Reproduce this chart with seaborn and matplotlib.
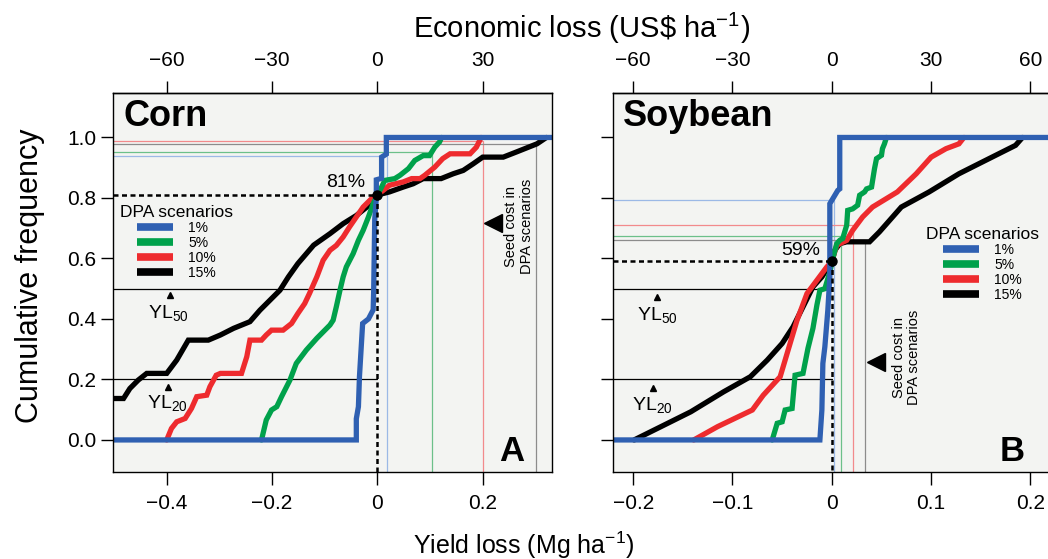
import numpy as np
import pandas as pd
import matplotlib
matplotlib.use("Agg")
import matplotlib.pyplot as plt
import seaborn as sns
from matplotlib.lines import Line2D

sns.set_theme(style="ticks")
plt.rcParams["font.family"] = ["Liberation Sans", "DejaVu Sans"]
plt.rcParams["mathtext.fontset"] = "custom"
plt.rcParams["mathtext.rm"] = "Liberation Sans"
plt.rcParams["mathtext.it"] = "Liberation Sans:italic"
plt.rcParams["mathtext.bf"] = "Liberation Sans:bold"
plt.rcParams["axes.unicode_minus"] = True
for key in ["text.color", "axes.labelcolor", "xtick.color", "ytick.color",
            "xtick.labelcolor", "ytick.labelcolor", "legend.labelcolor"]:
    plt.rcParams[key] = "black"

# ---------------------------------------------------------------- data
scenarios = ["1%", "5%", "10%", "15%"]

# Corn: cumulative frequency of yield loss (Mg/ha) per DPA scenario
corn_1_x = [-0.502, -0.040, -0.040, -0.036, -0.034, -0.028, -0.017, -0.008, -0.007, -0.005,
            -0.002, -0.002, 0.008, 0.008, 0.017, 0.017, 0.331]
corn_1_y = [0.0, 0.0, 0.07, 0.11, 0.21, 0.385, 0.40, 0.43, 0.495, 0.73,
            0.80, 0.86, 0.865, 0.935, 0.945, 1.0, 1.0]
corn_5_x = [-0.220, -0.211, -0.201, -0.191, -0.182, -0.166, -0.154, -0.135, -0.115, -0.090,
            -0.084, -0.078, -0.071, -0.065, -0.059, -0.046, -0.036, -0.027, -0.017, -0.008,
            0.0, 0.008, 0.014, 0.033, 0.043, 0.059, 0.071, 0.087, 0.099, 0.109, 0.118, 0.122]
corn_5_y = [0.0, 0.066, 0.099, 0.11, 0.143, 0.198, 0.253, 0.297, 0.336, 0.380,
            0.396, 0.44, 0.495, 0.539, 0.572, 0.616, 0.66, 0.693, 0.737, 0.781,
            0.81, 0.836, 0.858, 0.864, 0.875, 0.897, 0.924, 0.94, 0.94, 0.968, 0.985, 1.0]
corn_10_x = [-0.400, -0.391, -0.381, -0.365, -0.353, -0.343, -0.324, -0.318, -0.306, -0.298,
             -0.258, -0.248, -0.242, -0.220, -0.211, -0.201, -0.179, -0.163, -0.151, -0.138,
             -0.129, -0.115, -0.103, -0.090, -0.078, -0.065, -0.053, -0.040, -0.027, -0.008,
             0.0, 0.011, 0.023, 0.049, 0.065, 0.081, 0.090, 0.109, 0.124, 0.138,
             0.176, 0.188, 0.197]
corn_10_y = [0.0, 0.038, 0.06, 0.071, 0.104, 0.143, 0.148, 0.176, 0.214, 0.22,
             0.22, 0.275, 0.33, 0.33, 0.347, 0.363, 0.363, 0.385, 0.418, 0.451,
             0.484, 0.539, 0.594, 0.627, 0.643, 0.671, 0.704, 0.737, 0.770, 0.803,
             0.81, 0.825, 0.842, 0.853, 0.864, 0.864, 0.875, 0.902, 0.930, 0.946,
             0.946, 0.968, 1.0]
corn_15_x = [-0.502, -0.482, -0.470, -0.454, -0.438, -0.400, -0.381, -0.359, -0.321, -0.298,
             -0.273, -0.242, -0.223, -0.204, -0.185, -0.169, -0.151, -0.121, -0.090, -0.065,
             -0.040, -0.020, 0.0, 0.023, 0.049, 0.068, 0.087, 0.121, 0.144, 0.163,
             0.182, 0.200, 0.239, 0.264, 0.303, 0.321]
corn_15_y = [0.137, 0.137, 0.170, 0.198, 0.220, 0.220, 0.264, 0.330, 0.330, 0.347,
             0.369, 0.391, 0.429, 0.462, 0.495, 0.539, 0.583, 0.644, 0.682, 0.715,
             0.742, 0.770, 0.81, 0.820, 0.836, 0.847, 0.864, 0.864, 0.880, 0.891,
             0.913, 0.935, 0.935, 0.952, 0.979, 1.0]

# Soybean
soy_1_x = [-0.220, -0.012, -0.010, -0.009, -0.007, -0.004, -0.002, -0.002, 0.006, 0.008, 0.008, 0.222]
soy_1_y = [0.0, 0.0, 0.099, 0.253, 0.308, 0.429, 0.539, 0.781, 0.825, 0.830, 1.0, 1.0]
soy_5_x = [-0.060, -0.055, -0.050, -0.047, -0.040, -0.037, -0.029, -0.024, -0.019, -0.015,
           -0.012, -0.007, -0.002, 0.001, 0.005, 0.008, 0.011, 0.015, 0.016, 0.021,
           0.026, 0.028, 0.033, 0.035, 0.040, 0.043, 0.045, 0.050, 0.051, 0.053, 0.055]
soy_5_y = [0.0, 0.055, 0.06, 0.099, 0.104, 0.214, 0.22, 0.303, 0.369, 0.446,
           0.495, 0.5, 0.555, 0.6, 0.649, 0.66, 0.666, 0.71, 0.759, 0.764,
           0.776, 0.809, 0.820, 0.830, 0.836, 0.897, 0.930, 0.941, 0.963, 0.979, 1.0]
soy_10_x = [-0.139, -0.115, -0.080, -0.069, -0.052, -0.045, -0.035, -0.025, -0.015, -0.005,
            0.0, 0.005, 0.015, 0.021, 0.031, 0.041, 0.066, 0.085, 0.100, 0.115, 0.128, 0.133]
soy_10_y = [0.0, 0.044, 0.099, 0.148, 0.209, 0.286, 0.396, 0.484, 0.528, 0.572,
            0.59, 0.644, 0.66, 0.693, 0.737, 0.770, 0.820, 0.880, 0.935, 0.963, 0.979, 1.0]
soy_15_x = [-0.199, -0.172, -0.142, -0.109, -0.082, -0.065, -0.050, -0.039, -0.029, -0.019,
            -0.010, 0.0, 0.003, 0.008, 0.015, 0.038, 0.048, 0.070, 0.098, 0.128,
            0.151, 0.168, 0.185, 0.192]
soy_15_y = [0.0, 0.044, 0.093, 0.159, 0.209, 0.264, 0.319, 0.374, 0.440, 0.506,
            0.539, 0.59, 0.627, 0.649, 0.655, 0.655, 0.688, 0.770, 0.820, 0.880,
            0.918, 0.946, 0.974, 1.0]

# Seed cost break-even yield loss and matching cumulative frequency
corn_cost_x = [0.019, 0.103, 0.201, 0.302]
corn_cost_y = [0.938, 0.951, 0.988, 0.977]
soy_cost_x = [0.002, 0.0097, 0.021, 0.033]
soy_cost_y = [0.792, 0.673, 0.710, 0.662]

# Frequency of no yield loss, YL20 / YL50 levels
corn_zero_freq = 0.81
soy_zero_freq = 0.59
yl_levels = [0.5, 0.2]

# Grain price (US$ per Mg) linking yield loss to economic loss
corn_price = 150
soy_price = 300

corn_xticks = [-0.4, -0.2, 0.0, 0.2]
corn_xticklabels = ["\u22120.4", "\u22120.2", "0", "0.2"]
soy_xticks = [-0.2, -0.1, 0.0, 0.1, 0.2]
soy_xticklabels = ["\u22120.2", "\u22120.1", "0", "0.1", "0.2"]
corn_topticks = [-60, -30, 0, 30]
soy_topticks = [-60, -30, 0, 30, 60]
yticks = [0.0, 0.2, 0.4, 0.6, 0.8, 1.0]
yticklabels = ["0.0", "0.2", "0.4", "0.6", "0.8", "1.0"]

# ---------------------------------------------------------------- style
colors = {"1%": "#2f60b2", "5%": "#00a14b", "10%": "#ee2b2e", "15%": "#000000"}
ref_colors = {"1%": "#9bb9e6", "5%": "#6cc08a", "10%": "#f28a8c", "15%": "#8c8c8c"}
panel_bg = "#f3f4f2"

fig = plt.figure(figsize=(10.48, 5.59), dpi=100)
fig.patch.set_facecolor("white")

ax_c = fig.add_axes([113 / 1048, 1 - 471.7 / 559, 438.7 / 1048, 379 / 559])
ax_s = fig.add_axes([613.3 / 1048, 1 - 471.7 / 559, 440 / 1048, 379 / 559])

YLIM = (-0.105, 1.148)


def draw_panel(ax, xlim, curves, cost_x, cost_y, zero_freq, price,
               xticks, xticklabels, topticks, show_ylabels):
    ax.set_facecolor(panel_bg)
    ax.set_xlim(*xlim)
    ax.set_ylim(*YLIM)

    # seed-cost reference lines
    for sc, cx, cy in zip(scenarios, cost_x, cost_y):
        ax.plot([xlim[0], cx, cx], [cy, cy, YLIM[0]], color=ref_colors[sc],
                lw=0.9, zorder=1, solid_joinstyle="miter")

    # YL50 / YL20 guide lines
    for lvl in yl_levels:
        ax.plot([xlim[0], 0.0], [lvl, lvl], color="black", lw=0.9, zorder=1.5)

    # cumulative distributions, 15% drawn first so 1% sits on top
    for k, sc in enumerate(reversed(scenarios)):
        xs, ys = curves[sc]
        df = pd.DataFrame({"loss": xs, "freq": ys})
        sns.lineplot(data=df, x="loss", y="freq", sort=False, estimator=None,
                     color=colors[sc], lw=3.8, ax=ax, legend=False,
                     zorder=2 + 0.1 * k, solid_joinstyle="miter")

    # zero-loss frequency marker
    ax.plot([xlim[0], 0.0], [zero_freq, zero_freq], color="black", lw=1.8,
            ls=(0, (2.0, 1.4)), zorder=3)
    ax.plot([0.0, 0.0], [zero_freq, YLIM[0]], color="black", lw=1.8,
            ls=(0, (2.0, 1.4)), zorder=3)
    ax.plot([0.0], [zero_freq], "o", color="black", ms=6.5, zorder=4)

    ax.set_xticks(xticks)
    ax.set_xticklabels(xticklabels)
    ax.set_yticks(yticks)
    ax.set_yticklabels(yticklabels)
    ax.tick_params(axis="both", direction="out", length=9, width=1,
                   labelsize=15, colors="black")
    ax.tick_params(axis="x", pad=7)
    ax.tick_params(axis="y", pad=3, labelleft=show_ylabels)
    for sp in ax.spines.values():
        sp.set_visible(True)
        sp.set_color("black")
        sp.set_linewidth(1.0)
    ax.set_xlabel("")
    ax.set_ylabel("")

    sec = ax.secondary_xaxis("top", functions=(lambda v: v * price, lambda v: v / price))
    sec.set_xticks(topticks)
    sec.set_xticklabels([f"{t}".replace("-", "\u2212") for t in topticks])
    sec.tick_params(direction="out", length=9, width=1, labelsize=15, pad=7,
                    colors="black")
    sec.spines["top"].set_linewidth(1.0)
    sec.spines["top"].set_color("black")
    return ax


corn_curves = {"1%": (corn_1_x, corn_1_y), "5%": (corn_5_x, corn_5_y),
               "10%": (corn_10_x, corn_10_y), "15%": (corn_15_x, corn_15_y)}
soy_curves = {"1%": (soy_1_x, soy_1_y), "5%": (soy_5_x, soy_5_y),
              "10%": (soy_10_x, soy_10_y), "15%": (soy_15_x, soy_15_y)}

draw_panel(ax_c, (-0.502, 0.331), corn_curves, corn_cost_x, corn_cost_y,
           corn_zero_freq, corn_price, corn_xticks, corn_xticklabels, corn_topticks, True)
draw_panel(ax_s, (-0.220, 0.223), soy_curves, soy_cost_x, soy_cost_y,
           soy_zero_freq, soy_price, soy_xticks, soy_xticklabels, soy_topticks, False)

# ---------------------------------------------------------------- annotations
ax_c.text(0.025, 0.937, "Corn", transform=ax_c.transAxes, fontsize=26,
          fontweight="bold", ha="left", va="center")
ax_s.text(0.022, 0.937, "Soybean", transform=ax_s.transAxes, fontsize=26,
          fontweight="bold", ha="left", va="center")
ax_c.text(0.909, 0.054, "A", transform=ax_c.transAxes, fontsize=25,
          fontweight="bold", ha="center", va="center")
ax_s.text(0.906, 0.054, "B", transform=ax_s.transAxes, fontsize=25,
          fontweight="bold", ha="center", va="center")

ax_c.text(-0.023, 0.85, f"{round(corn_zero_freq * 100)}%", fontsize=14,
          ha="right", va="center")
ax_s.text(-0.012, 0.626, f"{round(soy_zero_freq * 100)}%", fontsize=14,
          ha="right", va="center")

# YL labels with their small pointer triangles
for ax, items in [
    (ax_c, [(-0.436, 0.403, -0.394, 0.479, "50"), (-0.437, 0.106, -0.398, 0.175, "20")]),
    (ax_s, [(-0.196, 0.397, -0.176, 0.473, "50"), (-0.201, 0.099, -0.180, 0.172, "20")]),
]:
    for tx, ty, mx, my, sub in items:
        ax.text(tx, ty, r"YL$_{\mathrm{" + sub + r"}}$", fontsize=14,
                ha="left", va="baseline", zorder=5)
        ax.plot([mx], [my], marker="^", color="black", ms=5, zorder=5)

# seed cost annotation
ax_c.plot([0.220], [0.717], marker="<", color="black", ms=13, zorder=5)
ax_c.text(0.269, 0.707, "Seed cost in\nDPA scenarios", rotation=90, fontsize=10.5,
          ha="center", va="center", multialignment="center", linespacing=1.1)
ax_s.plot([0.044], [0.258], marker="<", color="black", ms=13, zorder=5)
ax_s.text(0.0755, 0.274, "Seed cost in\nDPA scenarios", rotation=90, fontsize=10.5,
          ha="center", va="center", multialignment="center", linespacing=1.1)

# legends
handles = [Line2D([0], [0], color=colors[sc], lw=5.5, solid_capstyle="butt") for sc in scenarios]
for ax, anchor in [(ax_c, (0.016, 0.704)), (ax_s, (0.71, 0.646))]:
    leg = ax.legend(handles, scenarios, title="DPA scenarios", loc="upper left",
                    bbox_to_anchor=anchor, frameon=False, fontsize=10, title_fontsize=12.5,
                    handlelength=2.6, handletextpad=1.1, labelspacing=0.08,
                    borderpad=0, borderaxespad=0)
    leg.get_title().set_color("black")
    leg.set_zorder(6)

# shared axis titles
fig.text(582 / 1048, 1 - 28 / 559, r"Economic loss (US\$ ha$^{-1}$)", fontsize=21,
         ha="center", va="center")
fig.text(524 / 1048, 1 - 545 / 559, r"Yield loss (Mg ha$^{-1}$)", fontsize=18,
         ha="center", va="center")
fig.text(30 / 1048, 1 - 276 / 559, "Cumulative frequency", fontsize=22,
         ha="center", va="center", rotation=90)

fig.savefig("out.png", dpi=100, facecolor="white")
